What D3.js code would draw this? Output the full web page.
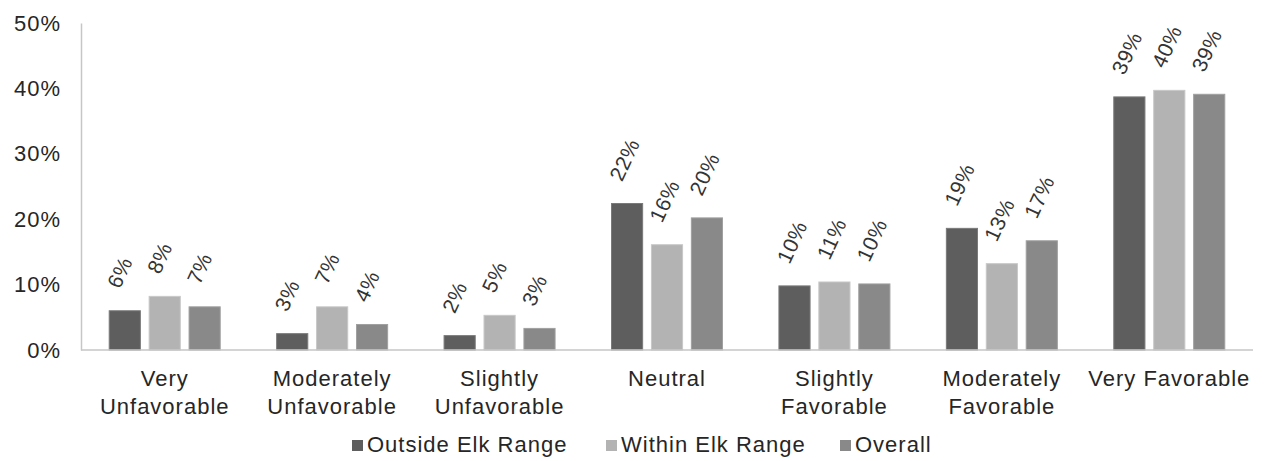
<!DOCTYPE html>
<html>
<head>
<meta charset="utf-8">
<script src="https://cdn.jsdelivr.net/npm/d3@7"></script>
<style>
  body { margin: 0; background: #fff; }
  svg { font-family: "Liberation Sans", Arial, sans-serif; }
  svg text { font-family: "Liberation Sans", Arial, sans-serif; }
</style>
</head>
<body>
<div id="chart"></div>
<script>
const categories = [
  ["Very", "Unfavorable"],
  ["Moderately", "Unfavorable"],
  ["Slightly", "Unfavorable"],
  ["Neutral"],
  ["Slightly", "Favorable"],
  ["Moderately", "Favorable"],
  ["Very Favorable"]
];
const seriesNames = ["Outside Elk Range", "Within Elk Range", "Overall"];
const outside = [6.0, 2.5, 2.2, 22.4, 9.8, 18.6, 38.7];
const within = [8.2, 6.6, 5.3, 16.1, 10.4, 13.2, 39.7];
const overall = [6.6, 3.9, 3.3, 20.2, 10.1, 16.7, 39.1];
const labelsOutside = ["6%", "3%", "2%", "22%", "10%", "19%", "39%"];
const labelsWithin = ["8%", "7%", "5%", "16%", "11%", "13%", "40%"];
const labelsOverall = ["7%", "4%", "3%", "20%", "10%", "17%", "39%"];
const yTicks = [0, 10, 20, 30, 40, 50];

const width = 1266, height = 461,
    margin = ({ top: 23, right: 13, bottom: 111, left: 81 });
const colors = ["#5e5e5e", "#b3b3b3", "#898989"];
const strokes = ["#7a7a7a", "#c8c8c8", "#a0a0a0"];

const svg = d3.select("#chart")
    .append("svg")
    .attr("width", width)
    .attr("height", height);

const values = [outside, within, overall];
const labels = [labelsOutside, labelsWithin, labelsOverall];

let x = d3.scaleBand()
    .domain(d3.range(categories.length))
    .range([margin.left, width - margin.right]);

let xs = d3.scaleBand()
    .domain(d3.range(3))
    .range([0, 111])
    .paddingInner(0.22)
    .paddingOuter(0);

let y = d3.scaleLinear()
    .domain([0, 50])
    .range([height - margin.bottom, margin.top]);

// y axis
svg.append("g")
    .attr("transform", `translate(${margin.left},0)`)
    .call(d3.axisLeft(y).tickValues(yTicks).tickSize(0).tickPadding(20).tickFormat(d => d + "%"))
    .call(g => g.select(".domain").attr("stroke", "#c6c6c6").attr("stroke-width", 1.5))
    .call(g => g.selectAll("text")
        .attr("font-size", 22)
        .attr("letter-spacing", 1)
        .attr("fill", "#262626")
        .attr("font-family", "Liberation Sans, Arial"));

// bars
values.forEach((vals, s) => {
  svg.append("g")
    .selectAll("rect")
    .data(vals)
    .join("rect")
    .attr("x", (d, i) => x(i) + (x.bandwidth() - 111) / 2 + xs(s))
    .attr("y", d => y(d))
    .attr("width", xs.bandwidth())
    .attr("height", d => y(0) - y(d))
    .attr("fill", colors[s])
    .attr("stroke", strokes[s])
    .attr("stroke-width", 1);

  svg.append("g")
    .selectAll("text")
    .data(vals)
    .join("text")
    .attr("transform", (d, i) => {
      let cx = x(i) + (x.bandwidth() - 111) / 2 + xs(s) + xs.bandwidth() / 2 - 5;
      return `translate(${cx},${y(d) - 21}) rotate(-65)`;
    })
    .attr("font-size", 21)
    .attr("letter-spacing", 0.5)
    .attr("fill", "#333")
    .text((d, i) => labels[s][i]);
});

// x axis line
svg.append("line")
    .attr("x1", margin.left)
    .attr("x2", width - margin.right)
    .attr("y1", y(0))
    .attr("y2", y(0))
    .attr("stroke", "#c6c6c6")
    .attr("stroke-width", 1.5);

// category labels
svg.append("g")
    .selectAll("text")
    .data(categories)
    .join("text")
    .attr("x", (d, i) => x(i) + x.bandwidth() / 2)
    .attr("y", 386)
    .attr("text-anchor", "middle")
    .attr("font-size", 22)
    .attr("letter-spacing", 1)
    .attr("fill", "#262626")
    .selectAll("tspan")
    .data(d => d)
    .join("tspan")
    .attr("x", function() { return this.parentNode.getAttribute("x"); })
    .attr("dy", (d, j) => j === 0 ? 0 : 27.5)
    .text(d => d);

// legend
const legendX = [352, 606, 840];
const legend = svg.append("g");
seriesNames.forEach((name, s) => {
  legend.append("rect")
    .attr("x", legendX[s])
    .attr("y", 440)
    .attr("width", 11)
    .attr("height", 11)
    .attr("fill", colors[s]);
  legend.append("text")
    .attr("x", legendX[s] + 15)
    .attr("y", 452)
    .attr("font-size", 22)
    .attr("letter-spacing", 1)
    .attr("fill", "#262626")
    .text(name);
});
</script>
</body>
</html>
